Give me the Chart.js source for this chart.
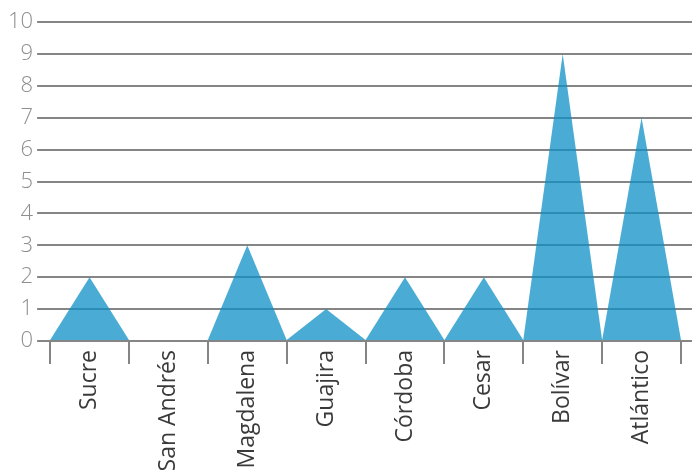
<!DOCTYPE html>
<html>
<head>
<meta charset="utf-8">
<script src="https://cdn.jsdelivr.net/npm/chart.js@4.4.0/dist/chart.umd.min.js"></script>
<style>
  html, body { margin: 0; padding: 0; background: #fff; }
  #wrap { width: 692px; height: 470px; }
</style>
</head>
<body>
<div id="wrap"><canvas id="chart"></canvas></div>
<script>
// departamentos y valores
const categories = ['Sucre', 'San Andrés', 'Magdalena', 'Guajira', 'Córdoba', 'Cesar', 'Bolívar', 'Atlántico'];
const values = [2, 0, 3, 1, 2, 2, 9, 7];
const yTicks = [0, 1, 2, 3, 4, 5, 6, 7, 8, 9, 10];

const GRID = '#858585';

// draws each bar as a triangle over its full category width
const trianglePlugin = {
  id: 'triangles',
  afterDatasetsDraw(chart) {
    const ctx = chart.ctx;
    chart.data.datasets.forEach((ds, i) => {
      const meta = chart.getDatasetMeta(i);
      meta.data.forEach((bar) => {
        const { x, y, base, width } = bar.getProps(['x', 'y', 'base', 'width'], true);
        if (Math.abs(base - y) < 0.5) return;
        ctx.save();
        ctx.fillStyle = ds.triangleColor;
        ctx.beginPath();
        ctx.moveTo(x - width / 2, base);
        ctx.lineTo(x, y);
        ctx.lineTo(x + width / 2, base);
        ctx.closePath();
        ctx.fill();
        ctx.restore();
      });
    });
  }
};

function draw() {
  new Chart(document.getElementById('chart'), {
    type: 'bar',
    data: {
      labels: categories,
      datasets: [{
        data: values,
        backgroundColor: 'rgba(0,0,0,0)',
        triangleColor: 'rgba(14,144,198,0.75)',
        barPercentage: 1,
        categoryPercentage: 1
      }]
    },
    options: {
      responsive: true,
      maintainAspectRatio: false,
      animation: false,
      layout: { padding: { top: 22, left: 4, right: 0, bottom: 0 } },
      plugins: { legend: { display: false }, tooltip: { enabled: false } },
      scales: {
        x: {
          offset: true,
          border: { display: false },
          afterFit: (scale) => { scale.height = 129; },
          grid: {
            offset: true,
            drawOnChartArea: false,
            color: GRID,
            lineWidth: 2,
            tickLength: 23
          },
          ticks: {
            minRotation: 90,
            maxRotation: 90,
            autoSkip: false,
            padding: -14,
            color: '#3a3a3a',
            font: { family: 'Open Sans', size: 23 }
          }
        },
        y: {
          min: 0,
          max: 10,
          afterBuildTicks: (scale) => { scale.ticks = yTicks.map(v => ({ value: v })); },
          border: { display: false },
          grid: { color: GRID, lineWidth: 2, tickLength: 13 },
          ticks: {
            padding: 4,
            color: '#8f8f8f',
            font: { family: 'Open Sans', size: 22, weight: '300' }
          }
        },
        yRight: {
          position: 'right',
          min: 0,
          max: 10,
          afterBuildTicks: (scale) => { scale.ticks = yTicks.map(v => ({ value: v })); },
          border: { display: false },
          grid: { color: GRID, lineWidth: 2, tickLength: 11, drawOnChartArea: false },
          ticks: { display: false }
        }
      }
    },
    plugins: [trianglePlugin]
  });
}

Promise.all([
  document.fonts.load('23px "Open Sans"'),
  document.fonts.load('300 22px "Open Sans"')
]).then(draw, draw);
</script>
</body>
</html>
